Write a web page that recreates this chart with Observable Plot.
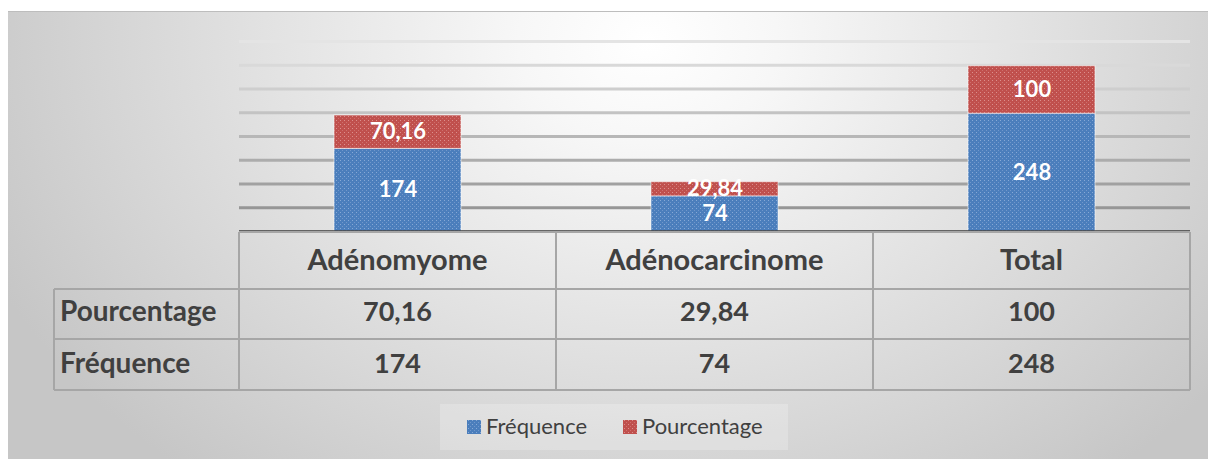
<!DOCTYPE html>
<html><head><meta charset="utf-8">
<script src="https://cdn.jsdelivr.net/npm/d3@7"></script>
<script src="https://cdn.jsdelivr.net/npm/@observablehq/plot@0.6"></script>
<style>
html,body{margin:0;padding:0;background:#fff;}
#wrap{position:relative;width:1208px;height:459px;overflow:hidden;background:#fff;}
#frame{position:absolute;left:8px;top:11px;width:1200px;height:448px;border-top:1px solid #bdbdbd;
 background:radial-gradient(ellipse 720px 560px at 640px 30px,#ffffff 0%,#f7f7f7 18%,#e4e4e4 50%,#c6c6c6 100%);}
#chart{position:absolute;left:0;top:0;}
</style></head><body>
<div id="wrap"><div id="frame"></div><div id="chart"></div></div>
<script>
// ---- data ----
const categories = ["Adénomyome", "Adénocarcinome", "Total"];
const seriesNames = ["Fréquence", "Pourcentage"];
const frequence = [174, 74, 248];
const pourcentage = [70.16, 29.84, 100];
const gridTicks = [50, 100, 150, 200, 250, 300, 350, 400];
const tableRows = ["Pourcentage", "Fréquence"];

const fmt = v => String(v).replace(".", ",");
const seriesValues = {"Fréquence": frequence, "Pourcentage": pourcentage};
const rows = [];
categories.forEach((c, i) => seriesNames.forEach(s => rows.push({cat: c, series: s, value: seriesValues[s][i]})));

const FONT = "Lato, 'Open Sans', sans-serif";
const gridColor = d3.scaleLinear().domain([50, 400]).range(["#969696", "#e4e4e4"]);

function tableAndLegend(index, scales, values, dims) {
  const x = scales.x;
  const bw = x.bandwidth();
  const step = x(categories[1]) - x(categories[0]);
  const half = (step - bw) / 2;
  const colL = categories.map(c => x(c) - half);
  const xEnd = x(categories[categories.length - 1]) + bw + half;
  const labelL = 54;
  const top = dims.height - dims.marginBottom + 1;
  const rowY = [top, 289, 339, 390];
  const g = d3.create("svg:g").attr("font-family", FONT).attr("text-anchor", "start");
  const line = "#a6a6a6";
  g.append("line").attr("x1", colL[0]).attr("x2", xEnd).attr("y1", rowY[0]).attr("y2", rowY[0]).attr("stroke", line).attr("stroke-width", 2);
  for (let k = 1; k < 4; k++)
    g.append("line").attr("x1", labelL).attr("x2", xEnd).attr("y1", rowY[k]).attr("y2", rowY[k]).attr("stroke", line).attr("stroke-width", 2);
  [...colL, xEnd].forEach(xx => g.append("line").attr("x1", xx).attr("x2", xx).attr("y1", rowY[0]).attr("y2", rowY[3]).attr("stroke", line).attr("stroke-width", 2));
  g.append("line").attr("x1", labelL).attr("x2", labelL).attr("y1", rowY[1]).attr("y2", rowY[3]).attr("stroke", line).attr("stroke-width", 2);
  categories.forEach(c => g.append("text").attr("x", x(c) + bw / 2).attr("y", 270).attr("text-anchor", "middle")
    .attr("font-size", 29).attr("font-weight", "bold").attr("fill", "#404040").text(c));
  const base = [321, 373];
  tableRows.forEach((r, k) => {
    g.append("text").attr("x", labelL + 6).attr("y", base[k]).attr("text-anchor", "start").attr("font-size", 28)
      .attr("font-weight", "bold").attr("fill", "#404040").text(r);
    categories.forEach((c, i) => g.append("text").attr("x", x(c) + bw / 2).attr("y", base[k]).attr("text-anchor", "middle")
      .attr("font-size", 27).attr("font-weight", "bold").attr("fill", "#404040").text(fmt(seriesValues[r][i])));
  });
  const lg = g.append("g");
  lg.append("rect").attr("x", 440).attr("y", 404).attr("width", 348).attr("height", 46).attr("fill", "#ffffff").attr("fill-opacity", 0.22);
  const items = [{s: "Fréquence", x: 467}, {s: "Pourcentage", x: 623}];
  items.forEach(it => {
    lg.append("rect").attr("x", it.x).attr("y", 420).attr("width", 14).attr("height", 14).attr("fill", scales.color(it.s));
    lg.append("text").attr("x", it.x + 19).attr("y", 434).attr("text-anchor", "start").attr("font-size", 22).attr("fill", "#404040").text(it.s);
  });
  return g.node();
}

const plot = Plot.plot({
  width: 1208, height: 459,
  marginLeft: 239, marginRight: 18, marginTop: 41, marginBottom: 228,
  style: {background: "transparent", fontFamily: FONT},
  x: {domain: categories, paddingInner: 0.6, paddingOuter: 0.3, axis: null},
  y: {domain: [0, 400], axis: null},
  color: {domain: seriesNames, range: ["url(#patBlue)", "url(#patRed)"]},
  marks: [
    Plot.ruleY(gridTicks, {y: d => d, stroke: d => gridColor(d), strokeWidth: 3}),
    Plot.barY(rows, Plot.stackY({x: "cat", y: "value", fill: "series", order: seriesNames,
      stroke: "#ffffff", strokeOpacity: 0.55, strokeWidth: 1})),
    Plot.text(rows, Plot.stackY({x: "cat", y: "value", z: "series", order: seriesNames, text: d => fmt(d.value),
      fill: "white", fontWeight: "bold", fontSize: 22})),
    Plot.ruleY([0], {stroke: "#3a3a3a", strokeWidth: 2.5}),
    tableAndLegend
  ]
});

const defs = `
<defs>
 <pattern id="patBlue" width="4" height="4" patternUnits="userSpaceOnUse">
  <rect width="4" height="4" fill="#4b7ebc"/>
  <rect x="0" y="0" width="1" height="1" fill="#86a9d6"/>
  <rect x="2" y="2" width="1" height="1" fill="#7097cb"/>
 </pattern>
 <pattern id="patRed" width="4" height="4" patternUnits="userSpaceOnUse">
  <rect width="4" height="4" fill="#c0504d"/>
  <rect x="0" y="0" width="1" height="1" fill="#dc8f8d"/>
  <rect x="2" y="2" width="1" height="1" fill="#cf706d"/>
 </pattern>
</defs>`;
plot.insertAdjacentHTML("afterbegin", defs);
document.getElementById("chart").appendChild(plot);
</script>
</body></html>
